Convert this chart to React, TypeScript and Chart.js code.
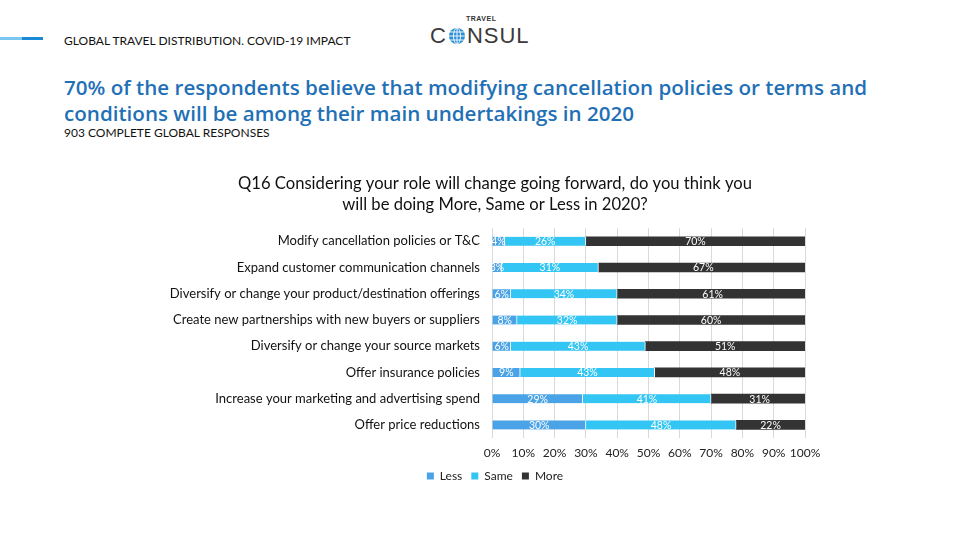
import React, { useEffect, useRef } from "react";
import { Chart, registerables } from "chart.js";

Chart.register(...registerables);

const categories = [
  "Modify cancellation policies or T&C",
  "Expand customer communication channels",
  "Diversify or change your product/destination offerings",
  "Create new partnerships with new buyers or suppliers",
  "Diversify or change your source markets",
  "Offer insurance policies",
  "Increase your marketing and advertising spend",
  "Offer price reductions",
];
const lessValues = [4, 3, 6, 8, 6, 9, 29, 30];
const sameValues = [26, 31, 34, 32, 43, 43, 41, 48];
const moreValues = [70, 67, 61, 60, 51, 48, 31, 22];
const seriesNames = ["Less", "Same", "More"];
const seriesColors = ["#4aa3e6", "#33c5f3", "#333333"];
const xTicks = [0, 10, 20, 30, 40, 50, 60, 70, 80, 90, 100];

const FONT = "Lato, 'Noto Sans', sans-serif";

const valueLabels = {
  id: "valueLabels",
  afterDatasetsDraw(chart: any) {
    const ctx = chart.ctx;
    ctx.save();
    ctx.font = `10.5px ${FONT}`;
    ctx.fillStyle = "#ffffff";
    ctx.textAlign = "center";
    ctx.textBaseline = "middle";
    chart.data.datasets.forEach((ds: any, di: number) => {
      const meta = chart.getDatasetMeta(di);
      meta.data.forEach((el: any, i: number) => {
        const v = ds.data[i];
        const x = (el.x + el.base) / 2;
        ctx.fillText(`${v}%`, x, el.y + 0.5);
      });
    });
    ctx.restore();
  },
};

function ChartView() {
  const ref = useRef<HTMLCanvasElement>(null);
  useEffect(() => {
    if (!ref.current) return;
    const values = [lessValues, sameValues, moreValues];
    const chart = new Chart(ref.current, {
      type: "bar",
      data: {
        labels: categories,
        datasets: seriesNames.map((name, i) => ({
          label: name,
          data: values[i],
          backgroundColor: seriesColors[i],
          borderColor: "#ffffff",
          borderWidth: { top: 0, bottom: 0, left: 0, right: i < 2 ? 1 : 0 },
          borderSkipped: false,
          barThickness: 9,
        })),
      },
      options: {
        indexAxis: "y",
        animation: false,
        responsive: false,
        maintainAspectRatio: false,
        layout: { padding: { left: 20, right: 20, top: 8, bottom: 4 } },
        scales: {
          x: {
            stacked: true,
            min: 0,
            max: 100,
            afterBuildTicks: (scale: any) => {
              scale.ticks = xTicks.map((v) => ({ value: v }));
            },
            afterFit: (scale: any) => {
              scale.height = 23;
            },
            ticks: {
              callback: (v: any) => `${v}%`,
              color: "#222222",
              font: { family: FONT, size: 12 },
              padding: 8,
              maxRotation: 0,
              autoSkip: false,
            },
            grid: { color: "#d9d9d9", drawTicks: false },
            border: { display: false },
          },
          y: {
            stacked: true,
            afterFit: (scale: any) => {
              scale.width = 322;
            },
            ticks: {
              color: "#111111",
              font: { family: FONT, size: 13 },
              padding: 12,
            },
            grid: { display: false, drawTicks: false },
            border: { display: false },
          },
          yRight: {
            type: "category",
            position: "right",
            display: true,
            afterFit: (scale: any) => {
              scale.width = 15;
            },
            ticks: { display: false },
            grid: { display: false, drawTicks: false },
            border: { display: false },
          },
        },
        plugins: {
          legend: {
            position: "bottom",
            labels: {
              boxWidth: 7,
              boxHeight: 7,
              padding: 9,
              color: "#222222",
              font: { family: FONT, size: 12 },
              generateLabels: (chart: any) =>
                chart.data.datasets.map((ds: any, i: number) => ({
                  text: ds.label,
                  fillStyle: ds.backgroundColor,
                  strokeStyle: ds.backgroundColor,
                  lineWidth: 0,
                  hidden: false,
                  datasetIndex: i,
                  fontColor: "#222222",
                })),
            },
          },
          title: {
            display: true,
            text: [
              "Q16 Considering your role will change going forward, do you think you",
              "will be doing More, Same or Less in 2020?",
            ],
            color: "#111111",
            font: { family: FONT, size: 16.6, weight: "normal", lineHeight: 1.27 },
            padding: { top: 0, bottom: 13 },
          },
          tooltip: { enabled: false },
        },
      },
      plugins: [valueLabels],
    } as any);
    return () => chart.destroy();
  }, []);
  return (
    <canvas
      ref={ref}
      width={690}
      height={331}
      style={{ position: "absolute", left: 150, top: 165, width: 690, height: 331 }}
    />
  );
}

function Globe() {
  return (
    <svg width="18" height="18" viewBox="0 0 18 18" style={{ display: "inline-block", verticalAlign: "-2px", margin: "0 1px" }}>
      <circle cx="9" cy="9" r="8" fill="#2a8fd6" />
      <g stroke="#ffffff" strokeWidth="0.9" fill="none">
        <ellipse cx="9" cy="9" rx="3.5" ry="8" />
        <line x1="9" y1="1" x2="9" y2="17" />
        <line x1="1" y1="9" x2="17" y2="9" />
        <line x1="2.2" y1="5" x2="15.8" y2="5" />
        <line x1="2.2" y1="13" x2="15.8" y2="13" />
      </g>
    </svg>
  );
}

export default function App() {
  return (
    <div
      style={{
        position: "fixed",
        left: 0,
        top: 0,
        width: 960,
        height: 540,
        background: "#ffffff",
        overflow: "hidden",
        fontFamily: FONT,
      }}
    >
      <div style={{ position: "absolute", left: 0, top: 37, width: 22, height: 3, background: "#7cc6f2" }} />
      <div style={{ position: "absolute", left: 22, top: 37, width: 21, height: 3, background: "#1a8ad6" }} />
      <div
        style={{
          position: "absolute",
          left: 64,
          top: 33,
          fontSize: 12,
          color: "#111111",
          whiteSpace: "nowrap",
          lineHeight: "16px",
        }}
      >
        GLOBAL TRAVEL DISTRIBUTION. COVID-19 IMPACT
      </div>
      <div
        style={{
          position: "absolute",
          left: 466,
          top: 15,
          fontSize: 7,
          fontWeight: 700,
          color: "#333333",
          fontFamily: "'Liberation Sans', sans-serif",
          letterSpacing: 0.5,
        }}
      >
        TRAVEL
      </div>
      <div
        style={{
          position: "absolute",
          left: 430,
          top: 24,
          fontSize: 22,
          lineHeight: "24px",
          color: "#3a3a3a",
          fontFamily: "'Liberation Sans', sans-serif",
          letterSpacing: 1,
          whiteSpace: "nowrap",
        }}
      >
        C<Globe />NSUL
      </div>
      <div
        style={{
          position: "absolute",
          left: 64,
          top: 74,
          width: 890,
          fontSize: 20.6,
          fontWeight: 600,
          lineHeight: "26px",
          color: "#1f70b6",
          fontFamily: "'Open Sans', sans-serif",
          whiteSpace: "nowrap",
        }}
      >
        70% of the respondents believe that modifying cancellation policies or terms and
        <br />
        conditions will be among their main undertakings in 2020
      </div>
      <div
        style={{
          position: "absolute",
          left: 64,
          top: 125,
          fontSize: 12,
          color: "#111111",
          whiteSpace: "nowrap",
          lineHeight: "16px",
        }}
      >
        903 COMPLETE GLOBAL RESPONSES
      </div>
      <ChartView />
    </div>
  );
}
